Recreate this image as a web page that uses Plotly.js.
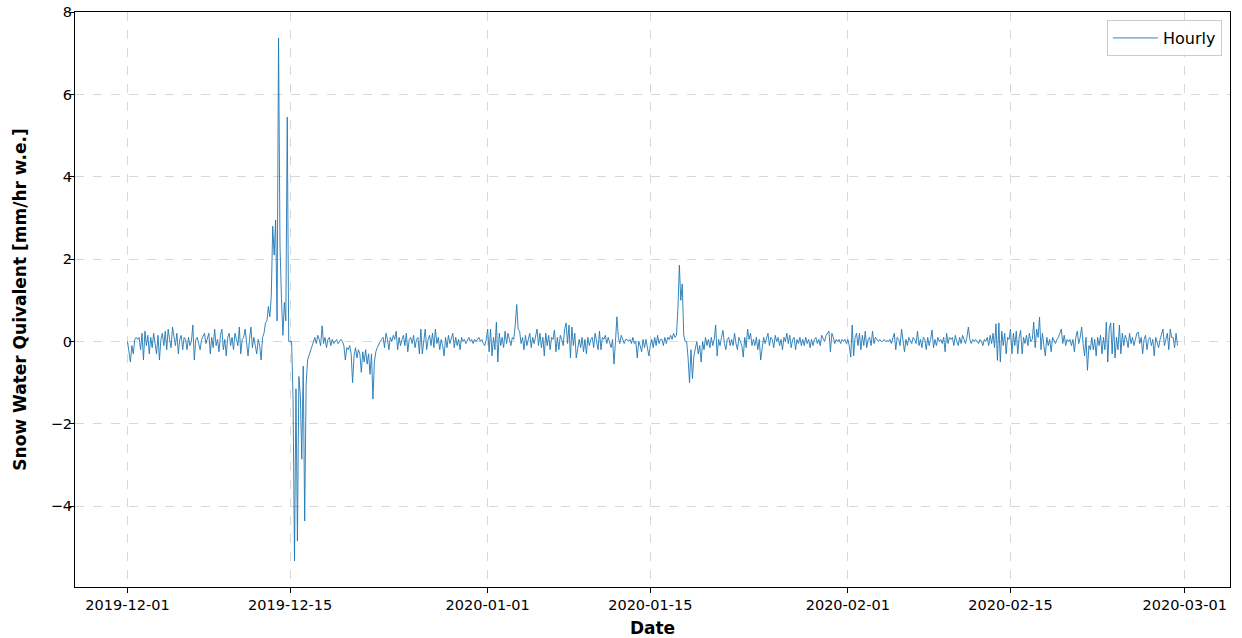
<!DOCTYPE html>
<html>
<head>
<meta charset="utf-8">
<script src="https://cdn.plot.ly/plotly-3.0.1.min.js"></script>
<style>html,body{margin:0;padding:0;background:#fff;}#chart{width:1242px;height:638px;}</style>
</head>
<body>
<div id="chart"></div>
<script>
// Sampling of the series (3-hourly readings)
const startDate = "2019-12-01T00:00:00Z";
const stepHours = 3;
const seriesName = "Hourly";

// Snow water equivalent [mm/hr w.e.], one row per day (8 readings per day)
const swe = [
  0, -0.2, -0.5, -0.1, -0.3, 0.05, 0.1, 0.05,            // 12-01
  0.1, -0.2, 0.2, -0.45, 0.25, -0.1, 0.15, -0.3,         // 12-02
  0.1, -0.15, 0.2, -0.05, -0.3, 0.15, -0.45, 0.05,       // 12-03
  0.2, -0.1, 0.25, -0.2, 0.3, 0.05, -0.15, 0.35,         // 12-04
  0.1, -0.1, 0.2, -0.3, 0.05, 0.15, -0.2, 0.1,           // 12-05
  0.05, -0.2, 0.1, -0.1, 0.0, 0.4, -0.45, 0.05,          // 12-06
  0.1, -0.1, -0.2, 0.05, 0.15, 0.2, -0.05, 0.1,          // 12-07
  0.2, -0.3, 0.1, -0.15, 0.3, -0.1, 0.05, -0.25,         // 12-08
  0.15, 0.3, -0.2, 0.05, -0.35, 0.1, 0.2, -0.1,          // 12-09
  0.1, -0.2, 0.2, 0.05, -0.1, 0.35, -0.3, 0.05,          // 12-10
  0.1, 0.3, -0.1, -0.35, 0.05, 0.35, -0.15, 0.1,         // 12-11
  -0.1, -0.3, 0.05, -0.1, -0.45, 0.1, 0.2, 0.45,         // 12-12
  0.5, 0.85, 0.6, 1.1, 2.8, 2.1, 2.95, 0.5,              // 12-13
  7.37, 2.35, 1.05, 0.15, 0.95, 0.5, 5.45, 0.0,          // 12-14
  0.0, 0.0, -1.4, -5.33, -1.15, -4.85, -0.85, -1.3,      // 12-15
  -2.86, -0.6, -4.36, -1.05, -0.45, -0.35, -0.25, -0.1,  // 12-16
  0.0, 0.1, -0.05, 0.15, 0.05, -0.1, 0.38, -0.05,        // 12-17
  0.1, -0.15, 0.05, 0.1, -0.1, 0.05, -0.05, 0.0,         // 12-18
  0.05, -0.05, 0.0, 0.05, 0.0, -0.1, -0.45, -0.15,       // 12-19
  -0.2, -0.1, -0.3, -1.0, -0.35, -0.15, -0.4, -0.2,      // 12-20
  -0.3, -0.75, -0.25, -0.5, -0.2, -0.55, -0.3, -0.8,     // 12-21
  -0.3, -1.4, -0.5, -0.25, -0.15, -0.05, 0.0, 0.05,      // 12-22
  0.1, -0.15, 0.2, 0.05, -0.2, 0.1, 0.0, 0.15,           // 12-23
  0.05, 0.25, -0.2, 0.1, -0.1, 0.05, 0.15, -0.1,         // 12-24
  0.2, -0.25, 0.05, 0.1, -0.05, 0.15, -0.15, 0.05,       // 12-25
  0.1, -0.3, 0.3, -0.3, 0.1, 0.3, -0.2, 0.05,            // 12-26
  0.15, -0.1, 0.2, -0.15, 0.3, -0.05, 0.1, -0.2,         // 12-27
  0.05, -0.1, -0.35, 0.1, -0.15, 0.15, -0.05, 0.1,       // 12-28
  0.2, -0.15, 0.1, -0.1, 0.05, -0.2, 0.1, 0.0,           // 12-29
  0.05, -0.05, 0.05, 0.1, 0.0, 0.05, -0.05, 0.05,        // 12-30
  0.0, 0.05, 0.1, 0.0, 0.05, -0.05, -0.1, 0.05,          // 12-31
  0.3, -0.25, 0.3, -0.35, 0.1, -0.2, 0.47, -0.5,         // 01-01
  0.2, -0.1, 0.1, -0.15, 0.25, -0.05, 0.2, 0.05,         // 01-02
  -0.1, 0.1, 0.05, 0.4, 0.9, 0.3, 0.25, -0.05,           // 01-03
  0.1, -0.2, 0.15, -0.1, 0.05, 0.2, -0.15, 0.1,          // 01-04
  -0.05, 0.1, 0.3, -0.1, 0.2, -0.15, 0.1, -0.35,         // 01-05
  0.2, -0.1, 0.15, -0.2, 0.1, 0.05, 0.28, -0.25,         // 01-06
  0.1, -0.2, 0.15, 0.05, -0.1, 0.3, 0.45, -0.05,         // 01-07
  0.4, -0.4, 0.35, -0.1, 0.2, -0.4, -0.2, 0.05,          // 01-08
  -0.15, 0.1, -0.25, 0.05, -0.3, 0.1, -0.1, 0.05,        // 01-09
  0.1, -0.15, 0.2, 0.0, -0.2, 0.25, -0.2, 0.1,           // 01-10
  0.05, 0.15, -0.05, 0.1, 0.0, -0.15, 0.05, -0.55,       // 01-11
  0.0, 0.6, 0.1, -0.05, 0.15, 0.05, -0.05, 0.05,         // 01-12
  0.05, 0.0, 0.05, -0.05, 0.1, -0.05, 0.0, -0.4,         // 01-13
  0.0, -0.1, -0.25, 0.05, -0.15, 0.05, -0.2, -0.35,      // 01-14
  -0.1, 0.05, -0.15, 0.1, -0.1, 0.15, -0.05, 0.05,       // 01-15
  0.05, -0.1, 0.1, -0.05, 0.1, 0.05, 0.15, 0.05,         // 01-16
  0.2, 0.1, 0.15, 0.8, 1.85, 1.0, 1.4, 0.15,             // 01-17
  0.0, 0.0, -0.4, -1.0, -0.2, -0.9, -0.35, -0.2,         // 01-18
  0.0, -0.3, -0.1, -0.5, 0.0, -0.2, 0.1, -0.1,           // 01-19
  0.05, -0.15, 0.1, -0.1, 0.05, 0.4, -0.35, 0.05,        // 01-20
  -0.1, 0.1, 0.27, -0.05, -0.2, 0.05, 0.1, -0.1,         // 01-21
  0.05, -0.1, 0.2, -0.05, -0.2, 0.1, 0.0, -0.1,          // 01-22
  -0.38, 0.1, -0.15, 0.3, 0.05, 0.2, -0.1, 0.05,         // 01-23
  -0.1, 0.1, -0.2, 0.05, -0.45, -0.1, 0.1, -0.05,        // 01-24
  0.05, 0.2, -0.1, 0.1, 0.05, -0.15, 0.15, 0.0,          // 01-25
  0.1, -0.1, 0.05, -0.2, 0.1, 0.0, 0.2, -0.05,           // 01-26
  0.15, -0.15, 0.05, 0.1, -0.2, 0.05, -0.05, 0.1,        // 01-27
  -0.1, 0.05, -0.1, 0.1, -0.05, 0.05, -0.15, 0.05,       // 01-28
  -0.1, 0.05, 0.1, -0.05, 0.05, -0.1, 0.15, 0.05,        // 01-29
  0.0, 0.15, 0.2, 0.25, -0.25, 0.2, 0.1, -0.05,          // 01-30
  0.05, 0.0, 0.05, -0.05, 0.05, 0.0, 0.05, -0.05,        // 01-31
  0.05, -0.1, -0.38, 0.4, -0.35, 0.1, 0.2, -0.1,         // 02-01
  0.2, -0.2, 0.15, -0.1, 0.25, -0.15, 0.05, 0.1,         // 02-02
  -0.1, 0.25, -0.05, 0.1, 0.05, 0.0, 0.05, 0.0,          // 02-03
  0.0, 0.05, 0.0, 0.02, 0.0, 0.05, -0.05, 0.1,           // 02-04
  0.2, -0.2, 0.1, 0.05, -0.1, 0.3, 0.05, -0.25,          // 02-05
  0.05, -0.1, 0.1, 0.0, -0.05, 0.1, 0.05, -0.05,         // 02-06
  0.25, -0.1, 0.05, -0.15, 0.1, 0.05, -0.2, 0.1,         // 02-07
  -0.1, 0.05, 0.28, -0.15, 0.05, -0.1, 0.1, 0.0,         // 02-08
  0.05, -0.05, 0.1, -0.25, 0.2, -0.05, 0.1, 0.05,        // 02-09
  0.1, -0.1, 0.15, 0.0, -0.1, 0.1, -0.05, 0.15,          // 02-10
  0.05, -0.05, 0.1, 0.35, 0.05, -0.05, 0.05, 0.0,        // 02-11
  0.05, 0.0, -0.05, 0.05, 0.0, -0.1, 0.05, 0.0,          // 02-12
  0.1, -0.1, 0.15, -0.05, 0.2, -0.15, 0.43, -0.46,       // 02-13
  0.45, -0.5, 0.25, -0.1, 0.2, -0.3, 0.1, 0.05,          // 02-14
  0.3, -0.3, 0.2, -0.1, 0.25, -0.3, 0.1, 0.27,           // 02-15
  -0.3, 0.1, -0.05, 0.15, -0.1, 0.2, 0.0, 0.05,          // 02-16
  0.47, -0.15, 0.3, 0.1, 0.59, -0.2, 0.2, -0.1,          // 02-17
  -0.35, 0.1, -0.1, 0.05, -0.25, 0.1, 0.0, -0.05,        // 02-18
  0.05, 0.1, 0.2, 0.3, -0.05, 0.15, -0.1, 0.05,          // 02-19
  0.0, 0.05, -0.1, 0.05, -0.25, 0.1, 0.25, -0.05,        // 02-20
  0.1, 0.35, -0.05, -0.35, 0.1, -0.7, -0.1, -0.2,        // 02-21
  0.1, -0.2, 0.05, -0.35, 0.1, -0.1, 0.15, -0.3,         // 02-22
  0.1, -0.2, 0.47, -0.5, 0.3, 0.45, -0.3, 0.45,          // 02-23
  -0.4, 0.1, -0.2, 0.4, -0.3, 0.2, -0.1, 0.15,           // 02-24
  0.05, -0.15, 0.2, -0.05, 0.1, -0.1, 0.05, 0.2,         // 02-25
  0.23, -0.05, 0.1, -0.3, 0.05, 0.15, -0.2, 0.05,        // 02-26
  0.1, -0.1, 0.05, -0.35, 0.1, 0.0, -0.15, 0.05,         // 02-27
  0.15, 0.3, -0.1, 0.05, 0.2, -0.2, 0.3, 0.1,            // 02-28
  0.1, -0.15, 0.2, -0.1                                  // 02-29
];

// Axis ticks
const xTickDates = ["2019-12-01", "2019-12-15", "2020-01-01", "2020-01-15", "2020-02-01", "2020-02-15", "2020-03-01"];
const xTickLabels = ["2019-12-01", "2019-12-15", "2020-01-01", "2020-01-15", "2020-02-01", "2020-02-15", "2020-03-01"];
const yTickValues = [-4, -2, 0, 2, 4, 6, 8];
const xTitle = "Date";
const yTitle = "Snow Water Quivalent [mm/hr w.e.]";

// Time stamps of the readings
const t0 = Date.parse(startDate);
const stepMs = stepHours * 3600 * 1000;
function fmt(ms) {
  const d = new Date(ms);
  const p = n => String(n).padStart(2, "0");
  return d.getUTCFullYear() + "-" + p(d.getUTCMonth() + 1) + "-" + p(d.getUTCDate()) + " " + p(d.getUTCHours()) + ":" + p(d.getUTCMinutes());
}
const times = swe.map((_, i) => fmt(t0 + i * stepMs));

// matplotlib-like 5% margins
const tFirst = t0, tLast = t0 + (swe.length - 1) * stepMs;
const tPad = (tLast - tFirst) * 0.05;
const yMin = Math.min(...swe), yMax = Math.max(...swe);
const yPad = (yMax - yMin) * 0.05;

const font = "DejaVu Sans, Liberation Sans, sans-serif";

Plotly.newPlot("chart", [{
  type: "scatter",
  mode: "lines",
  x: times,
  y: swe,
  name: seriesName,
  line: {color: "#1f77b4", width: 0.9},
  showlegend: true
}], {
  width: 1242,
  height: 638,
  margin: {l: 75, r: 12, t: 12, b: 51},
  paper_bgcolor: "#ffffff",
  plot_bgcolor: "#ffffff",
  font: {family: font, size: 14.5, color: "#000"},
  showlegend: true,
  legend: {
    x: 0.993, y: 0.986, xanchor: "right", yanchor: "top",
    bgcolor: "rgba(255,255,255,0.8)", bordercolor: "#cccccc", borderwidth: 1,
    itemwidth: 45,
    font: {family: font, size: 16, color: "#000"}
  },
  xaxis: {
    type: "date",
    range: [fmt(tFirst - tPad), fmt(tLast + tPad)],
    tickvals: xTickDates,
    ticktext: xTickLabels,
    showgrid: true, gridcolor: "#d8d8d8", griddash: "dash", gridwidth: 1,
    zeroline: false,
    showline: true, mirror: true, linecolor: "#000", linewidth: 1,
    ticks: "outside", ticklen: 5, tickcolor: "#000", tickwidth: 1,
    tickfont: {family: font, size: 14.5, color: "#000"},
    title: {text: "<b>" + xTitle + "</b>", font: {family: font, size: 17, color: "#000"}, standoff: 12}
  },
  yaxis: {
    range: [yMin - yPad, yMax + yPad],
    tickvals: yTickValues,
    showgrid: true, gridcolor: "#d8d8d8", griddash: "dash", gridwidth: 1,
    zeroline: false,
    showline: true, mirror: true, linecolor: "#000", linewidth: 1,
    ticks: "outside", ticklen: 5, tickcolor: "#000", tickwidth: 1,
    ticklabelstandoff: -6,
    tickfont: {family: font, size: 14.5, color: "#000"},
    title: {text: "<b>" + yTitle + "</b>", font: {family: font, size: 17, color: "#000"}, standoff: 19}
  }
}, {displayModeBar: false, staticPlot: true});
</script>
</body>
</html>
